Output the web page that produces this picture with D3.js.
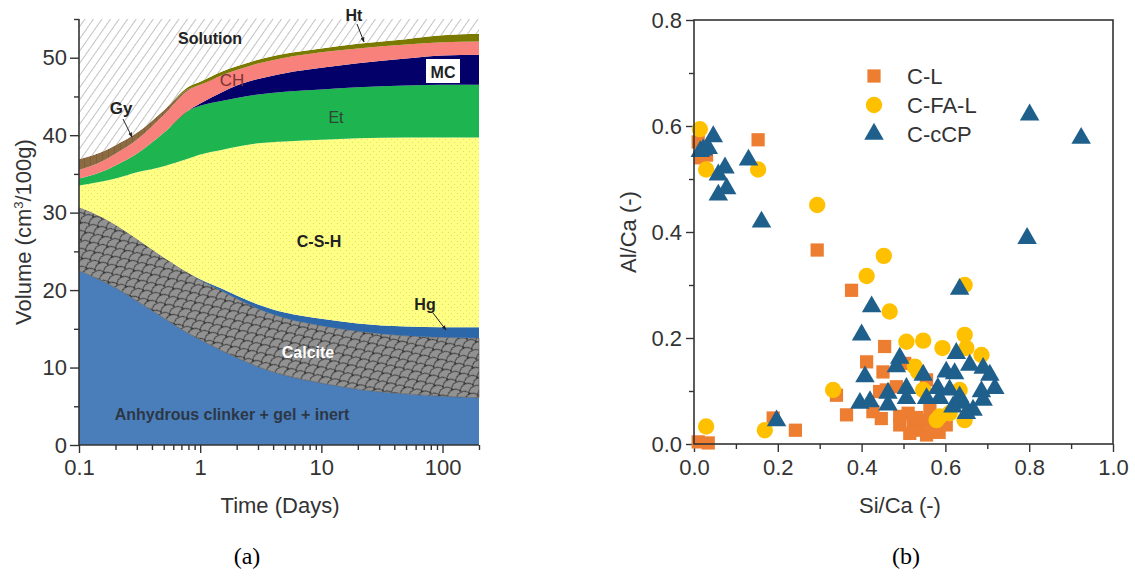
<!DOCTYPE html>
<html>
<head>
<meta charset="utf-8">
<script src="https://cdn.jsdelivr.net/npm/d3@7"></script>
<style>
  body { margin: 0; background: #fff; }
  svg text { font-family: "Liberation Sans", Arial, sans-serif; }
</style>
</head>
<body>
<svg id="fig" width="1135" height="577"></svg>
<script>
// ---- (a) phase assemblage, volumes in cm3/100g ----
var times     = [0.1, 0.15, 0.2, 0.3, 0.5, 0.8, 1, 1.5, 2, 3, 5, 10, 20, 50, 100, 200];
var anhydrous = [22.5, 21.3, 20.3, 18.6, 16.4, 14.4, 13.6, 12.2, 11.3, 10.1, 9.0, 8.0, 7.2, 6.6, 6.3, 6.1];
var calcite   = [8.2, 8.2, 8.1, 8.0, 7.8, 7.8, 7.7, 7.7, 7.6, 7.5, 7.4, 7.4, 7.5, 7.5, 7.6, 7.7];
var hg        = [0, 0, 0, 0, 0, 0, 0.1, 0.3, 0.4, 0.55, 0.7, 0.9, 1.0, 1.2, 1.3, 1.4];
var csh       = [2.8, 4.5, 6.0, 8.6, 11.8, 14.8, 16.1, 17.9, 19.2, 20.8, 22.1, 23.1, 23.9, 24.4, 24.5, 24.5];
var et        = [0.9, 1.2, 1.7, 2.4, 4.3, 6.2, 6.3, 6.3, 6.3, 6.3, 6.4, 6.5, 6.6, 6.7, 6.8, 6.8];
var mc        = [0, 0, 0, 0, 0, 0, 0.3, 1.1, 1.6, 2.0, 2.4, 2.8, 3.1, 3.5, 3.8, 3.9];
var ch        = [1.1, 1.3, 1.5, 1.8, 2.3, 2.6, 2.4, 2.2, 2.0, 2.0, 2.0, 2.0, 1.9, 1.8, 1.7, 1.7];
var gy        = [1.4, 1.25, 1.1, 0.9, 0.6, 0.15, 0, 0, 0, 0, 0, 0, 0, 0, 0, 0];
var ht        = [0, 0, 0, 0, 0, 0.3, 0.4, 0.5, 0.5, 0.5, 0.5, 0.5, 0.6, 0.7, 0.9, 1.0];
var solution  = [18.1, 17.25, 16.3, 14.7, 11.8, 8.75, 8.1, 6.8, 6.1, 5.3, 4.5, 3.8, 3.2, 2.6, 2.1, 1.9];

var xTicksA = [0.1, 1, 10, 100];
var yTicksA = [0, 10, 20, 30, 40, 50];

// ---- (b) Al/Ca vs Si/Ca ----
var seriesNames = ["C-L", "C-FA-L", "C-cCP"];
var clPoints = [
  [0.010, 0.570], [0.020, 0.552], [0.030, 0.545], [0.015, 0.540], [0.153, 0.574], [0.294, 0.366],
  [0.376, 0.290], [0.189, 0.049], [0.242, 0.026], [0.010, 0.004], [0.034, 0.002], [0.443, 0.099],
  [0.455, 0.184], [0.412, 0.155], [0.451, 0.136], [0.503, 0.152], [0.459, 0.102], [0.483, 0.108],
  [0.340, 0.092], [0.364, 0.055], [0.427, 0.061], [0.447, 0.048], [0.491, 0.052], [0.511, 0.058],
  [0.491, 0.036], [0.523, 0.039], [0.539, 0.026], [0.555, 0.017], [0.570, 0.030], [0.515, 0.020],
  [0.547, 0.045], [0.602, 0.036], [0.563, 0.064], [0.555, 0.121], [0.531, 0.050], [0.585, 0.022]
];
var cfalPoints = [
  [0.014, 0.594], [0.029, 0.518], [0.153, 0.518], [0.294, 0.451], [0.453, 0.355], [0.412, 0.317],
  [0.467, 0.250], [0.646, 0.300], [0.029, 0.033], [0.169, 0.026], [0.507, 0.193], [0.547, 0.195],
  [0.593, 0.181], [0.646, 0.206], [0.650, 0.181], [0.686, 0.168], [0.527, 0.146], [0.535, 0.136],
  [0.332, 0.102], [0.547, 0.102], [0.634, 0.102], [0.586, 0.052], [0.610, 0.058], [0.646, 0.045],
  [0.579, 0.045]
];
var cccpPoints = [
  [0.801, 0.621], [0.924, 0.577], [0.795, 0.388], [0.161, 0.419], [0.130, 0.536], [0.046, 0.580],
  [0.022, 0.555], [0.034, 0.558], [0.074, 0.521], [0.058, 0.508], [0.078, 0.482], [0.058, 0.470],
  [0.015, 0.552], [0.634, 0.292], [0.424, 0.259], [0.400, 0.206], [0.197, 0.044], [0.491, 0.162],
  [0.483, 0.146], [0.408, 0.127], [0.547, 0.130], [0.626, 0.171], [0.658, 0.149], [0.690, 0.143],
  [0.706, 0.130], [0.718, 0.105], [0.602, 0.136], [0.622, 0.133], [0.396, 0.077], [0.420, 0.080],
  [0.463, 0.074], [0.463, 0.096], [0.507, 0.105], [0.507, 0.086], [0.555, 0.086], [0.582, 0.105],
  [0.586, 0.086], [0.610, 0.102], [0.634, 0.089], [0.642, 0.077], [0.666, 0.064], [0.686, 0.099],
  [0.690, 0.083], [0.618, 0.070], [0.650, 0.058]
];
var xTicksB = [0, 0.2, 0.4, 0.6, 0.8, 1.0];
var yTicksB = [0, 0.2, 0.4, 0.6, 0.8];

//=========
var svg = d3.select("#fig");
var defs = svg.append("defs");
var axisCol = "#333";

// hatched solution
var p = defs.append("pattern").attr("id", "hatch").attr("patternUnits", "userSpaceOnUse")
  .attr("width", 7).attr("height", 7).attr("patternTransform", "rotate(35)");
p.append("rect").attr("width", 7).attr("height", 7).attr("fill", "#fff");
p.append("path").attr("d", "M3.5,0 V7").attr("stroke", "#bcbcbc").attr("stroke-width", 0.9);

// dotted C-S-H
p = defs.append("pattern").attr("id", "dots").attr("patternUnits", "userSpaceOnUse")
  .attr("width", 6).attr("height", 6);
p.append("rect").attr("width", 6).attr("height", 6).attr("fill", "#ffff84");
p.append("circle").attr("cx", 1.5).attr("cy", 1.5).attr("r", 0.6).attr("fill", "#d8d86a");
p.append("circle").attr("cx", 4.5).attr("cy", 4.5).attr("r", 0.6).attr("fill", "#d8d86a");

// calcite scales
p = defs.append("pattern").attr("id", "scales").attr("patternUnits", "userSpaceOnUse")
  .attr("width", 14).attr("height", 11).attr("patternTransform", "rotate(-25)");
p.append("rect").attr("width", 14).attr("height", 11).attr("fill", "#929292");
p.append("path").attr("d", "M0,11 A7,5.5 0 0 1 14,11 M-7,5.5 A7,5.5 0 0 1 7,5.5 M7,5.5 A7,5.5 0 0 1 21,5.5")
  .attr("fill", "none").attr("stroke", "#2a2a2a").attr("stroke-width", 1);

// gypsum bricks
p = defs.append("pattern").attr("id", "bricks").attr("patternUnits", "userSpaceOnUse")
  .attr("width", 6).attr("height", 5);
p.append("rect").attr("width", 6).attr("height", 5).attr("fill", "#8c6a42");
p.append("path").attr("d", "M0,0 v5").attr("stroke", "#6e5130").attr("stroke-width", 0.8);

defs.append("marker").attr("id", "arrow").attr("viewBox", "0 0 10 10")
  .attr("refX", 9).attr("refY", 5).attr("markerWidth", 5).attr("markerHeight", 5)
  .attr("orient", "auto")
  .append("path").attr("d", "M0,1 L10,5 L0,9 z").attr("fill", "#222");

// ===== panel (a) =====
var xL = d3.scaleLog().domain([0.1, 200]).range([79, 479]);
var yL = d3.scaleLinear().domain([0, 55]).range([445, 19]);

var phases = [
  {key: "anhydrous", vals: anhydrous, fill: "#4a7ebb"},
  {key: "calcite",   vals: calcite,   fill: "url(#scales)"},
  {key: "hg",        vals: hg,        fill: "#2b67a9"},
  {key: "csh",       vals: csh,       fill: "url(#dots)"},
  {key: "et",        vals: et,        fill: "#1eb550"},
  {key: "mc",        vals: mc,        fill: "#03006a"},
  {key: "ch",        vals: ch,        fill: "#f8817b"},
  {key: "gy",        vals: gy,        fill: "url(#bricks)"},
  {key: "ht",        vals: ht,        fill: "#7a7a00"},
  {key: "solution",  vals: solution,  fill: "url(#hatch)"}
];

var rows = times.map(function(t, i){
  var r = {t: t};
  phases.forEach(function(ph){ r[ph.key] = ph.vals[i]; });
  return r;
});
var stacked = d3.stack().keys(phases.map(function(ph){ return ph.key; }))(rows);

var area = d3.area()
  .x(function(d){ return xL(d.data.t); })
  .y0(function(d){ return yL(d[0]); })
  .y1(function(d){ return yL(d[1]); })
  .curve(d3.curveMonotoneX);

var gA = svg.append("g");
gA.selectAll("path.layer").data(stacked).enter().append("path")
  .attr("class", "layer")
  .attr("d", area)
  .attr("fill", function(d, i){ return phases[i].fill; })
  .attr("stroke", function(d, i){ return phases[i].key === "calcite" ? "#555" : "none"; })
  .attr("stroke-width", 0.6);

// axes (a)
var minorX = [];
[0.1, 1, 10, 100].forEach(function(dec){
  for (var k = 2; k <= 9; k++) { if (dec * k <= 200) minorX.push(dec * k); }
});
var minorY = [5, 15, 25, 35, 45, 55];

function styleAxis(g){
  g.select(".domain").remove();
  g.selectAll("line").attr("stroke", axisCol).attr("stroke-width", 1.4);
  g.selectAll("text").attr("fill", axisCol).style("font-size", "22px");
}

gA.append("g").attr("transform", "translate(0,445)")
  .call(d3.axisBottom(xL).tickValues(minorX).tickFormat("").tickSize(5)).call(styleAxis);
gA.append("g").attr("transform", "translate(0,445)")
  .call(d3.axisBottom(xL).tickValues(xTicksA).tickFormat(d3.format("")).tickSize(8).tickPadding(6))
  .call(styleAxis);
gA.append("g").attr("transform", "translate(79,0)")
  .call(d3.axisLeft(yL).tickValues(minorY).tickFormat("").tickSize(5)).call(styleAxis);
gA.append("g").attr("transform", "translate(79,0)")
  .call(d3.axisLeft(yL).tickValues(yTicksA).tickFormat(d3.format("d")).tickSize(9).tickPadding(3))
  .call(styleAxis);
gA.append("line").attr("x1", 79).attr("x2", 79).attr("y1", 19).attr("y2", 445)
  .attr("stroke", axisCol).attr("stroke-width", 1.6);
gA.append("line").attr("x1", 79).attr("x2", 479).attr("y1", 445).attr("y2", 445)
  .attr("stroke", axisCol).attr("stroke-width", 1.6);

gA.append("text").attr("x", 280).attr("y", 513).attr("text-anchor", "middle")
  .attr("fill", axisCol).style("font-size", "22px").text("Time (Days)");
var yt = gA.append("text").attr("transform", "translate(31,232) rotate(-90)")
  .attr("text-anchor", "middle").attr("fill", axisCol).style("font-size", "22px");
yt.append("tspan").text("Volume (cm");
yt.append("tspan").attr("dy", -8).style("font-size", "13px").text("3");
yt.append("tspan").attr("dy", 8).text("/100g)");

// phase labels
function lab(x, y, txt, opts){
  opts = opts || {};
  return gA.append("text").attr("x", x).attr("y", y).attr("text-anchor", "middle")
    .attr("fill", opts.fill || "#222").style("font-size", (opts.size || 16) + "px")
    .style("font-weight", opts.bold === false ? "normal" : "bold").text(txt);
}
lab(210, 44, "Solution", {size: 16});
lab(354, 21, "Ht", {size: 16});
lab(232, 86, "CH", {size: 17, bold: false, fill: "#7a3434"});
gA.append("rect").attr("x", 426).attr("y", 59).attr("width", 34).attr("height", 24).attr("fill", "#fff");
lab(443, 78, "MC", {size: 16});
lab(121, 114, "Gy", {size: 17});
lab(336, 123, "Et", {size: 16, bold: false, fill: "#2f4436"});
lab(319, 247, "C-S-H", {size: 16});
lab(425, 310, "Hg", {size: 16});
lab(308, 358, "Calcite", {size: 16, fill: "#fff"});
lab(232, 420, "Anhydrous clinker + gel + inert", {size: 16, fill: "#2c3746"});

function arrow(x1, y1, x2, y2){
  gA.append("line").attr("x1", x1).attr("y1", y1).attr("x2", x2).attr("y2", y2)
    .attr("stroke", "#222").attr("stroke-width", 1).attr("marker-end", "url(#arrow)");
}
arrow(357, 24, 364, 42);
arrow(123, 119, 132, 137);
arrow(433, 313, 446, 330);

// ===== panel (b) =====
var xR = d3.scaleLinear().domain([0, 1]).range([694, 1113]);
var yR = d3.scaleLinear().domain([0, 0.8]).range([444, 20]);
var gB = svg.append("g");

gB.append("g").attr("transform", "translate(0,444)")
  .call(d3.axisBottom(xR).tickValues([0.1, 0.3, 0.5, 0.7, 0.9]).tickFormat("").tickSize(5)).call(styleAxis);
gB.append("g").attr("transform", "translate(0,444)")
  .call(d3.axisBottom(xR).tickValues(xTicksB).tickFormat(d3.format(".1f")).tickSize(8).tickPadding(7))
  .call(styleAxis);
gB.append("g").attr("transform", "translate(694,0)")
  .call(d3.axisLeft(yR).tickValues([0.1, 0.3, 0.5, 0.7]).tickFormat("").tickSize(5)).call(styleAxis);
gB.append("g").attr("transform", "translate(694,0)")
  .call(d3.axisLeft(yR).tickValues(yTicksB).tickFormat(d3.format(".1f")).tickSize(8).tickPadding(4))
  .call(styleAxis);

var colL = "#ed7d31", colFA = "#ffc000", colCP = "#1f5f8c";
var sym = {
  sq:  d3.symbol().type(d3.symbolSquare).size(175),
  ci:  d3.symbol().type(d3.symbolCircle).size(210),
  tri: d3.symbol().type(d3.symbolTriangle).size(165)
};

function drawPts(pts, s, col){
  gB.append("g").selectAll("path").data(pts).enter().append("path")
    .attr("transform", function(d){ return "translate(" + xR(d[0]) + "," + yR(d[1]) + ")"; })
    .attr("d", s).attr("fill", col);
}
drawPts(clPoints, sym.sq, colL);
drawPts(cfalPoints, sym.ci, colFA);
drawPts(cccpPoints, sym.tri, colCP);

gB.append("rect").attr("x", 694).attr("y", 20).attr("width", 419).attr("height", 424)
  .attr("fill", "none").attr("stroke", axisCol).attr("stroke-width", 1.6);

// legend
var leg = [
  {name: seriesNames[0], s: sym.sq, col: colL},
  {name: seriesNames[1], s: sym.ci, col: colFA},
  {name: seriesNames[2], s: sym.tri, col: colCP}
];
leg.forEach(function(l, i){
  var y = 76 + i * 29;
  gB.append("path").attr("transform", "translate(874," + y + ")").attr("d", l.s).attr("fill", l.col);
  gB.append("text").attr("x", 907).attr("y", y + 8).attr("fill", axisCol)
    .style("font-size", "22px").text(l.name);
});

gB.append("text").attr("x", 900).attr("y", 513).attr("text-anchor", "middle")
  .attr("fill", axisCol).style("font-size", "22px").text("Si/Ca (-)");
gB.append("text").attr("transform", "translate(636,232) rotate(-90)").attr("text-anchor", "middle")
  .attr("fill", axisCol).style("font-size", "22px").text("Al/Ca (-)");

// captions
svg.append("text").attr("x", 247).attr("y", 564).attr("text-anchor", "middle")
  .style("font-family", "'Liberation Serif', 'Times New Roman', serif").style("font-size", "24px").text("(a)");
svg.append("text").attr("x", 906).attr("y", 564).attr("text-anchor", "middle")
  .style("font-family", "'Liberation Serif', 'Times New Roman', serif").style("font-size", "24px").text("(b)");
</script>
</body>
</html>
